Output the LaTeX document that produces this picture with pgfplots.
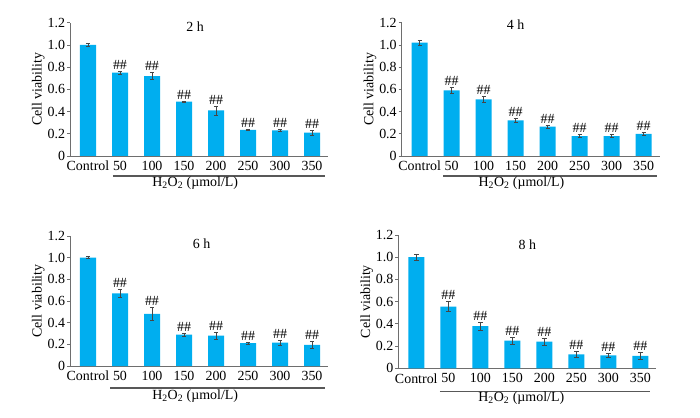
\documentclass[border=0pt]{standalone}
\usepackage{pgfplots}
\pgfplotsset{compat=1.18}
\usepackage{pgfplotstable}
\usepackage{fontspec}
\setmainfont{Liberation Serif}
\definecolor{barblue}{RGB}{0,174,239}
\definecolor{axgray}{RGB}{110,110,110}
\definecolor{errgray}{RGB}{70,70,70}
\newcommand{\pf}{\fontsize{14}{16}\selectfont}

\pgfplotstableread{
x y e
0 1.00 0.015
1 0.75 0.012
2 0.72 0.030
3 0.49 0.006
4 0.41 0.040
5 0.235 0.006
6 0.23 0.012
7 0.21 0.020
}\dataA
\pgfplotstableread{
x y e
0 1.02 0.020
1 0.59 0.030
2 0.51 0.030
3 0.32 0.020
4 0.265 0.015
5 0.18 0.015
6 0.18 0.015
7 0.20 0.015
}\dataB
\pgfplotstableread{
x y e
0 1.00 0.010
1 0.67 0.040
2 0.48 0.060
3 0.29 0.015
4 0.28 0.030
5 0.21 0.010
6 0.215 0.020
7 0.195 0.030
}\dataC
\pgfplotstableread{
x y e
0 1.00 0.025
1 0.555 0.045
2 0.38 0.035
3 0.25 0.030
4 0.24 0.030
5 0.125 0.025
6 0.117 0.020
7 0.112 0.035
}\dataD

\pgfplotsset{
  panel/.style={
    anchor=south west,
    scale only axis,
    width=258bp,
    xmin=-0.5625, xmax=7.5,
    ymin=0, ymax=1.2,
    axis x line=bottom, axis y line=left,
    axis line style={-, axgray, line width=0.8bp},
    clip=false,
    xtick={0,1,2,3,4,5,6,7},
    xticklabels={Control,50,100,150,200,250,300,350},
    xtick style={draw=none},
    ytick={0,0.2,0.4,0.6,0.8,1.0,1.2},
    yticklabels={0,0.2,0.4,0.6,0.8,1.0,1.2},
    ytick style={axgray, line width=0.8bp},
    tick align=outside,
    major tick length=3bp,
    ylabel={Cell viability},
    ylabel style={yshift=-4bp},
    tick label style={font=\pf},
    label style={font=\pf},
    xticklabel style={inner sep=2bp},
    yticklabel style={xshift=1.5bp},
    /pgf/number format/assume math mode=true,
  },
  bars/.style={
    ybar, bar width=16bp, fill=barblue, draw=none,
    error bars/.cd, y dir=both, y explicit,
    error bar style={errgray, line width=0.7bp},
    error mark options={rotate=90, mark size=2.2bp, errgray, line width=0.7bp},
  },
  sig/.style={
    draw=none, mark=none, skip coords between index={0}{1},
    nodes near coords={\#\#},
    every node near coord/.append style={anchor=south, font=\pf, inner sep=1.5bp},
  },
}

\begin{document}
\begin{tikzpicture}
\useasboundingbox (0,0) rectangle (700bp,418bp);

% Panel 2 h
\begin{axis}[panel, at={(70bp,262bp)}, height=133.3bp]
\addplot[bars] table[x=x, y=y, y error=e]{\dataA};
\addplot[sig] table[x=x, y expr=\thisrow{y}+\thisrow{e}]{\dataA};
\node[font=\pf] at (axis cs:3.35,1.16) {2 h};
\draw[axgray!80!black, line width=1.3bp] (axis cs:0.78,-0.18) -- (axis cs:7.4,-0.18);
\node[font=\pf] at (axis cs:3.35,-0.245) {H\textsubscript{2}O\textsubscript{2} (µmol/L)};
\end{axis}

% Panel 4 h
\begin{axis}[panel, at={(401.7bp,262bp)}, height=133.3bp]
\addplot[bars] table[x=x, y=y, y error=e]{\dataB};
\addplot[sig] table[x=x, y expr=\thisrow{y}+\thisrow{e}]{\dataB};
\node[font=\pf] at (axis cs:3.0,1.18) {4 h};
\draw[axgray!80!black, line width=1.3bp] (axis cs:0.74,-0.18) -- (axis cs:7.4,-0.18);
\node[font=\pf] at (axis cs:3.18,-0.245) {H\textsubscript{2}O\textsubscript{2} (µmol/L)};
\end{axis}

% Panel 6 h
\begin{axis}[panel, at={(70bp,52bp)}, height=130bp]
\addplot[bars] table[x=x, y=y, y error=e]{\dataC};
\addplot[sig] table[x=x, y expr=\thisrow{y}+\thisrow{e}]{\dataC};
\node[font=\pf] at (axis cs:3.55,1.13) {6 h};
\draw[axgray!80!black, line width=1.3bp] (axis cs:0.69,-0.203) -- (axis cs:7.4,-0.203);
\node[font=\pf] at (axis cs:3.35,-0.28) {H\textsubscript{2}O\textsubscript{2} (µmol/L)};
\end{axis}

% Panel 8 h
\begin{axis}[panel, at={(398.3bp,49.7bp)}, height=133.3bp]
\addplot[bars] table[x=x, y=y, y error=e]{\dataD};
\addplot[sig] table[x=x, y expr=\thisrow{y}+\thisrow{e}]{\dataD};
\node[font=\pf] at (axis cs:3.47,1.11) {8 h};
\draw[axgray!80!black, line width=1.3bp] (axis cs:0.74,-0.21) -- (axis cs:7.3,-0.21);
\node[font=\pf] at (axis cs:3.28,-0.27) {H\textsubscript{2}O\textsubscript{2} (µmol/L)};
\end{axis}
\end{tikzpicture}
\end{document}
